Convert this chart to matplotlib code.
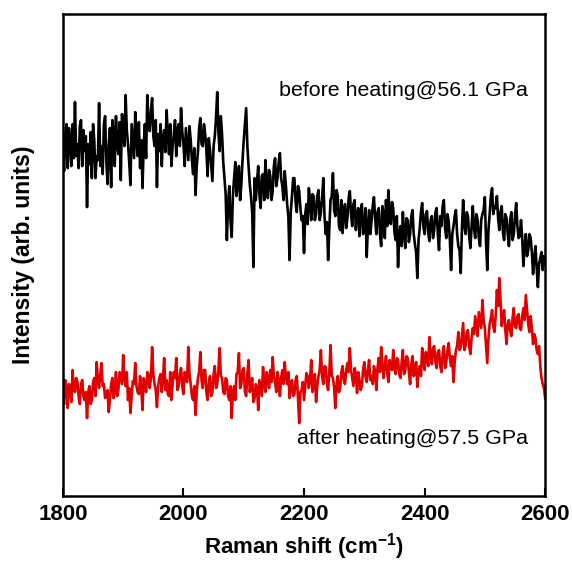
import numpy as np
import matplotlib
matplotlib.use("Agg")
import matplotlib.pyplot as plt

# Raman shift axis, 2 cm-1 step
shift = np.arange(1800, 2601, 2)

# before heating @ 56.1 GPa (arb. units)
before = [
    340, 325, 362, 372, 328, 368, 355, 330, 372, 338, 394, 340, 352, 328, 370, 376, 330, 366, 345, 360,
    289, 352, 332, 364, 318, 372, 356, 318, 340, 336, 393, 330, 350, 322, 372, 380, 336, 312, 350, 368,
    309, 376, 366, 330, 380, 352, 342, 374, 316, 382, 370, 350, 401, 366, 352, 334, 311, 372, 355, 338,
    384, 356, 340, 374, 328, 356, 308, 350, 372, 338, 401, 370, 365, 386, 398, 360, 350, 376, 309, 362,
    345, 372, 330, 358, 366, 344, 386, 362, 342, 372, 330, 350, 362, 376, 340, 366, 372, 350, 388, 364,
    352, 330, 368, 352, 336, 370, 356, 336, 322, 348, 301, 330, 344, 368, 378, 352, 350, 372, 362, 346,
    320, 358, 346, 330, 315, 350, 360, 378, 404, 364, 345, 380, 362, 334, 318, 302, 256, 292, 310, 276,
    259, 300, 318, 334, 300, 312, 330, 296, 312, 336, 356, 372, 388, 350, 330, 312, 300, 284, 229, 318,
    296, 314, 330, 302, 288, 320, 322, 296, 336, 312, 298, 326, 320, 296, 305, 330, 338, 310, 318, 334,
    343, 318, 310, 296, 325, 310, 292, 280, 236, 284, 300, 318, 318, 294, 284, 310, 305, 288, 276, 280,
    243, 282, 292, 272, 308, 296, 276, 302, 300, 276, 282, 300, 306, 276, 284, 298, 318, 280, 262, 274,
    236, 268, 296, 300, 323, 286, 280, 306, 300, 270, 266, 296, 263, 284, 292, 268, 278, 298, 305, 282,
    270, 292, 296, 266, 282, 288, 260, 282, 292, 262, 270, 288, 239, 270, 286, 262, 275, 290, 299, 278,
    262, 284, 288, 262, 250, 290, 282, 258, 296, 270, 306, 280, 272, 294, 288, 264, 256, 280, 229, 262,
    270, 250, 284, 262, 248, 278, 276, 254, 262, 280, 286, 262, 252, 244, 218, 256, 268, 284, 293, 270,
    262, 282, 285, 264, 255, 276, 280, 258, 266, 284, 288, 262, 246, 280, 270, 290, 296, 268, 258, 282,
    275, 256, 226, 262, 270, 280, 286, 262, 250, 246, 223, 268, 296, 270, 262, 284, 280, 260, 248, 270,
    290, 268, 258, 282, 276, 258, 250, 276, 282, 286, 299, 254, 226, 266, 282, 300, 308, 282, 290, 288,
    300, 278, 266, 284, 290, 264, 256, 282, 278, 262, 250, 276, 284, 256, 262, 280, 293, 270, 258, 260,
    276, 258, 230, 250, 262, 240, 246, 262, 258, 244, 222, 238, 250, 228, 209, 232, 238, 244, 226, 240,
    232,
]

# after heating @ 57.5 GPa
after = [
    100, 92, 116, 108, 88, 112, 110, 94, 126, 108, 104, 118, 114, 100, 92, 112, 116, 100, 96, 104,
    78, 104, 110, 92, 96, 114, 118, 100, 134, 116, 108, 122, 133, 110, 112, 98, 100, 106, 84, 96,
    112, 118, 98, 104, 124, 100, 106, 124, 118, 112, 141, 118, 110, 124, 96, 108, 83, 100, 115, 112,
    133, 110, 104, 102, 120, 108, 86, 118, 112, 104, 124, 122, 108, 118, 149, 122, 112, 106, 89, 110,
    118, 122, 104, 118, 138, 106, 116, 102, 100, 124, 96, 112, 124, 118, 138, 106, 110, 122, 128, 110,
    102, 124, 120, 114, 149, 122, 112, 100, 96, 110, 81, 104, 118, 124, 144, 116, 108, 126, 126, 104,
    96, 112, 120, 100, 104, 122, 130, 108, 112, 126, 148, 120, 118, 104, 102, 118, 116, 100, 96, 110,
    78, 104, 110, 96, 122, 124, 143, 108, 112, 126, 128, 104, 100, 122, 136, 104, 110, 118, 94, 98,
    112, 108, 86, 116, 108, 100, 129, 112, 104, 124, 118, 108, 126, 114, 139, 120, 114, 104, 124, 116,
    100, 118, 126, 112, 134, 118, 112, 124, 98, 110, 116, 100, 102, 116, 120, 98, 73, 104, 106, 114,
    96, 110, 123, 120, 108, 116, 136, 104, 112, 122, 94, 110, 120, 126, 146, 120, 112, 130, 129, 112,
    106, 124, 151, 120, 118, 108, 88, 112, 120, 104, 108, 124, 130, 116, 112, 126, 133, 124, 148, 126,
    118, 110, 128, 122, 103, 124, 116, 106, 110, 126, 134, 120, 114, 126, 136, 116, 120, 112, 130, 124,
    106, 128, 138, 124, 149, 132, 118, 130, 140, 124, 114, 136, 132, 126, 146, 128, 122, 138, 136, 122,
    118, 134, 146, 122, 126, 140, 138, 124, 112, 132, 140, 120, 124, 134, 109, 126, 130, 120, 148, 136,
    126, 144, 140, 130, 159, 140, 132, 148, 150, 134, 128, 144, 146, 130, 124, 142, 150, 128, 134, 146,
    153, 138, 130, 140, 114, 134, 146, 150, 164, 146, 148, 160, 173, 146, 150, 164, 166, 150, 142, 158,
    168, 162, 180, 170, 160, 184, 176, 168, 196, 176, 168, 150, 133, 158, 172, 178, 186, 170, 164, 180,
    206, 190, 218, 196, 170, 180, 186, 166, 152, 172, 176, 166, 160, 178, 188, 170, 168, 180, 182, 168,
    166, 180, 188, 176, 201, 186, 172, 164, 180, 168, 152, 162, 158, 146, 142, 150, 130, 118, 112, 108,
    98,
]

plt.rcParams['font.family'] = ['Liberation Sans', 'DejaVu Sans']
plt.rcParams['mathtext.fontset'] = 'custom'
plt.rcParams['mathtext.rm'] = 'Liberation Sans'
plt.rcParams['mathtext.bf'] = 'Liberation Sans:bold'

fig = plt.figure(figsize=(5.72, 5.65), dpi=100)
ax = fig.add_axes([0.110, 0.122, 0.843, 0.853])

ax.plot(shift, before, color='black', lw=1.9)
ax.plot(shift, after, color='#e00000', lw=1.9)

ax.set_xlim(1800, 2600)
ax.set_ylim(0, 482)
ax.set_xticks([1800, 2000, 2200, 2400, 2600])
ax.set_yticks([])
ax.tick_params(axis='x', direction='in', length=6, width=1.5, labelsize=16, pad=6)
for lbl in ax.get_xticklabels():
    lbl.set_fontweight('bold')
for s in ax.spines.values():
    s.set_linewidth(1.8)

ax.set_xlabel('Raman shift (cm$^{\\mathbf{-1}}$)', fontsize=16, fontweight='bold', labelpad=4)
ax.set_ylabel('Intensity (arb. units)', fontsize=16.5, fontweight='bold', labelpad=20)

ax.text(0.965, 0.842, 'before heating@56.1 GPa', transform=ax.transAxes,
        ha='right', va='center', fontsize=15.4)
ax.text(0.965, 0.120, 'after heating@57.5 GPa', transform=ax.transAxes,
        ha='right', va='center', fontsize=15.4)

fig.savefig('out.png', dpi=100)
